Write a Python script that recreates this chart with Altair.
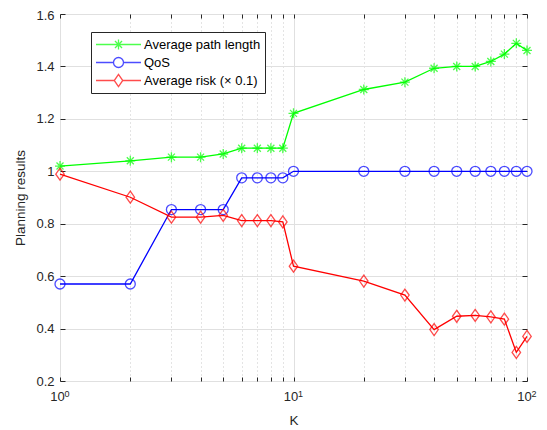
import altair as alt
import pandas as pd

K = [1, 2, 3, 4, 5, 6, 7, 8, 9, 10, 20, 30, 40, 50, 60, 70, 80, 90, 100]
path_length = [1.02, 1.04, 1.054, 1.054, 1.066, 1.088, 1.088, 1.088, 1.088, 1.221,
               1.312, 1.34, 1.393, 1.40, 1.40, 1.419, 1.447, 1.488, 1.461]
qos = [0.57, 0.57, 0.854, 0.854, 0.854, 0.975, 0.975, 0.975, 0.975, 1.0,
       1.0, 1.0, 1.0, 1.0, 1.0, 1.0, 1.0, 1.0, 1.0]
risk = [0.989, 0.901, 0.825, 0.825, 0.832, 0.812, 0.812, 0.812, 0.807, 0.638,
        0.581, 0.528, 0.396, 0.447, 0.45, 0.445, 0.436, 0.309, 0.37]

series_names = ["Average path length", "QoS", "Average risk (\u00d7 0.1)"]
series_values = [path_length, qos, risk]
colors = ["#00ff00", "#0000ff", "#ff0000"]

x_ticks = [1, 2, 3, 4, 5, 6, 7, 8, 9, 10, 20, 30, 40, 50, 60, 70, 80, 90, 100]
y_ticks = [0.2, 0.4, 0.6, 0.8, 1.0, 1.2, 1.4, 1.6]

# marker shapes (plot) and legend symbols (line + marker)
marker_paths = [
    "M-1,0H1M0,-1V1M-0.7,-0.7L0.7,0.7M-0.7,0.7L0.7,-0.7",
    "M-1,0A1,1 0 1,1 1,0A1,1 0 1,1 -1,0Z",
    "M0,-1.2L0.85,0L0,1.2L-0.85,0Z",
]
legend_paths = [
    "M-1,0H1M0,-0.222V0.222M-0.157,-0.157L0.157,0.157M-0.157,0.157L0.157,-0.157",
    "M-1,0H-0.222M0.222,0H1M-0.222,0A0.222,0.222 0 1,1 0.222,0A0.222,0.222 0 1,1 -0.222,0Z",
    "M-1,0H-0.189M0.189,0H1M0,-0.267L0.189,0L0,0.267L-0.189,0Z",
]

rows = []
for name, vals in zip(series_names, series_values):
    for k, v in zip(K, vals):
        rows.append({"K": k, "value": v, "series": name})
df = pd.DataFrame(rows)

FONT = "Liberation Sans"
AX = "#262626"

xscale = alt.Scale(type="log", domain=[1, 100], nice=False)
yscale = alt.Scale(domain=[0.2, 1.6], nice=False, zero=False)

major = "datum.value == 1 || datum.value == 10 || datum.value == 100"

x_axis = alt.Axis(
    values=x_ticks, title="K", orient="bottom",
    labelExpr="(datum.value == 1 || datum.value == 10 || datum.value == 100) ? '10' : ''",
    grid=True,
    gridDash={"condition": {"test": major, "value": []}, "value": [1, 3]},
    gridColor={"condition": {"test": major, "value": "#e0e0e0"}, "value": "#c8c8c8"},
    domain=False, offset=-4, tickSize=4, tickColor=AX, labelPadding=9, labelOffset=-3,
    labelFont=FONT, labelFontSize=13, labelColor=AX, labelFlush=False,
    titleFont=FONT, titleFontSize=13.5, titleFontWeight="normal", titleColor=AX,
    titlePadding=10,
)
x_exp_axis = alt.Axis(
    values=[1, 10, 100], title=None, orient="bottom",
    labelExpr="datum.value == 1 ? '0' : datum.value == 10 ? '1' : '2'",
    grid=False, domain=False, ticks=False, offset=0, labelPadding=8, labelOffset=6.5,
    labelFont=FONT, labelFontSize=9, labelColor=AX, labelFlush=False,
)
y_axis = alt.Axis(
    values=y_ticks, format=".1~f", title="Planning results", orient="left",
    grid=True, gridColor="#e0e0e0",
    domain=False, offset=-5, tickSize=5, tickColor=AX, labelPadding=6,
    labelOffset={"condition": {"test": "datum.value > 1.55", "value": 1}, "value": 0},
    labelFont=FONT, labelFontSize=13, labelColor=AX,
    titleFont=FONT, titleFontSize=13.5, titleFontWeight="normal", titleColor=AX,
    titlePadding=8,
)

base = alt.Chart(df)
layers = []
for i, (name, col, mp) in enumerate(zip(series_names, colors, marker_paths)):
    sub = base.transform_filter(alt.datum.series == name)
    line = sub.mark_line(color=col, strokeWidth=1.3).encode(
        x=alt.X("K:Q", scale=xscale, axis=x_axis if i == 0 else None),
        y=alt.Y("value:Q", scale=yscale, axis=y_axis if i == 0 else None),
    )
    pts = sub.mark_point(shape=mp, color=col, filled=False, size=100, strokeWidth=1.3).encode(
        x=alt.X("K:Q", scale=xscale, axis=x_exp_axis if i == 0 else None),
        y=alt.Y("value:Q", scale=yscale, axis=None),
    )
    layers += [line, pts]

legend = alt.Legend(
    title=None, orient="none", legendX=31, legendY=18,
    symbolSize=2025, symbolStrokeWidth=1.3, clipHeight=17, rowPadding=1,
    labelOffset=2, padding=4, strokeColor=AX, fillColor="white", cornerRadius=0,
    labelFont=FONT, labelFontSize=13, labelColor="black",
)

frame_x = alt.Axis(orient="top", values=x_ticks, labels=False, title=None, grid=False,
                   domain=False, offset=-4, tickSize=4, tickColor=AX)
frame_y = alt.Axis(orient="right", values=y_ticks, labels=False, title=None, grid=False,
                   domain=False, offset=-5, tickSize=5, tickColor=AX)

legend_layer = base.transform_filter("false").mark_point(filled=False, size=100, strokeWidth=1.3).encode(
    x=alt.X("K:Q", scale=xscale, axis=frame_x),
    y=alt.Y("value:Q", scale=yscale, axis=frame_y),
    color=alt.Color("series:N", scale=alt.Scale(domain=series_names, range=colors), legend=legend),
    shape=alt.Shape("series:N", scale=alt.Scale(domain=series_names, range=legend_paths), legend=legend),
)
layers.append(legend_layer)

chart = alt.layer(*layers).resolve_axis(x="independent", y="independent").properties(
    width=467, height=367,
    autosize=alt.AutoSizeParams(type="none"),
    padding={"left": 52, "top": 6, "right": 12, "bottom": 49},
).configure_view(stroke=AX, strokeWidth=1).configure(background="white")

chart.save("out.html", embed_options={"renderer": "svg", "actions": False})
